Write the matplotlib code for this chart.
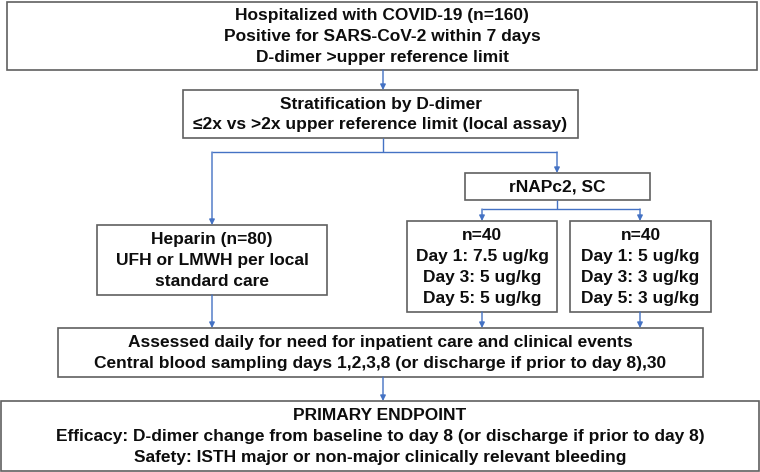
import matplotlib
matplotlib.use("Agg")
import matplotlib.pyplot as plt
from matplotlib.patches import Rectangle

plt.rcParams['font.family'] = ['Liberation Sans', 'DejaVu Sans']

# ---- content ----
enroll_lines = ["Hospitalized with COVID-19 (n=160)",
                "Positive for SARS-CoV-2 within 7 days",
                "D-dimer >upper reference limit"]
strat_lines = ["Stratification by D-dimer",
               "≤2x vs >2x upper reference limit (local assay)"]
rnapc_lines = ["rNAPc2, SC"]
heparin_lines = ["Heparin (n=80)", "UFH or LMWH per local", "standard care"]
arm_high_lines = ["n=40", "Day 1: 7.5 ug/kg", "Day 3: 5 ug/kg", "Day 5: 5 ug/kg"]
arm_low_lines = ["n=40", "Day 1: 5 ug/kg", "Day 3: 3 ug/kg", "Day 5: 3 ug/kg"]
assess_lines = ["Assessed daily for need for inpatient care and clinical events",
                "Central blood sampling days 1,2,3,8 (or discharge if prior to day 8),30"]
endpoint_lines = ["PRIMARY ENDPOINT",
                  "Efficacy: D-dimer change from baseline to day 8 (or discharge if prior to day 8)",
                  "Safety: ISTH major or non-major clinically relevant bleeding"]

# ---- layout (pixels: x0, y0, x1, y1) ----
boxes = [
    ((7, 2, 757, 70), enroll_lines),
    ((183, 90, 578, 138), strat_lines),
    ((465, 173, 650, 200), rnapc_lines),
    ((97, 225, 327, 295), heparin_lines),
    ((407, 221, 557, 312), arm_high_lines),
    ((570, 221, 711, 312), arm_low_lines),
    ((58, 328, 703, 377), assess_lines),
    ((1, 401, 759, 471), endpoint_lines),
]

W, H = 760, 472
fig = plt.figure(figsize=(W / 100, H / 100), dpi=100)
ax = fig.add_axes([0, 0, 1, 1])
ax.set_xlim(0, W)
ax.set_ylim(H, 0)
ax.axis('off')

edge = '#606060'
blue = '#4472C4'
fs = 12.5
lh = 20.8

for (x0, y0, x1, y1), lines in boxes:
    ax.add_patch(Rectangle((x0, y0), x1 - x0, y1 - y0, fill=False,
                           edgecolor=edge, lw=1.2))
    cx = (x0 + x1) / 2
    cy = (y0 + y1) / 2 + 0.5
    n = len(lines)
    for i, t in enumerate(lines):
        yy = cy + (i - (n - 1) / 2) * lh
        ax.text(cx, yy, t, ha='center', va='center', fontsize=fs,
                fontweight='bold', color='#0d0d0d')

def line(xs, ys):
    ax.plot(xs, ys, color=blue, lw=1.0, solid_capstyle='butt')

def arrow(x, y0, y1):
    ax.annotate('', xy=(x, y1), xytext=(x, y0),
                arrowprops=dict(arrowstyle='-|>', color=blue, lw=1.0,
                                mutation_scale=8, shrinkA=0, shrinkB=0))

arrow(383, 70, 90)
line([383, 383], [138, 152])
line([212, 557], [152, 152])
arrow(212, 152, 225)
arrow(557, 152, 173)
line([557, 557], [200, 209])
line([482, 640], [209, 209])
arrow(482, 209, 221)
arrow(640, 209, 221)
arrow(212, 295, 328)
arrow(482, 312, 328)
arrow(640, 312, 328)
arrow(383, 377, 401)

fig.savefig('out.png', dpi=100)
